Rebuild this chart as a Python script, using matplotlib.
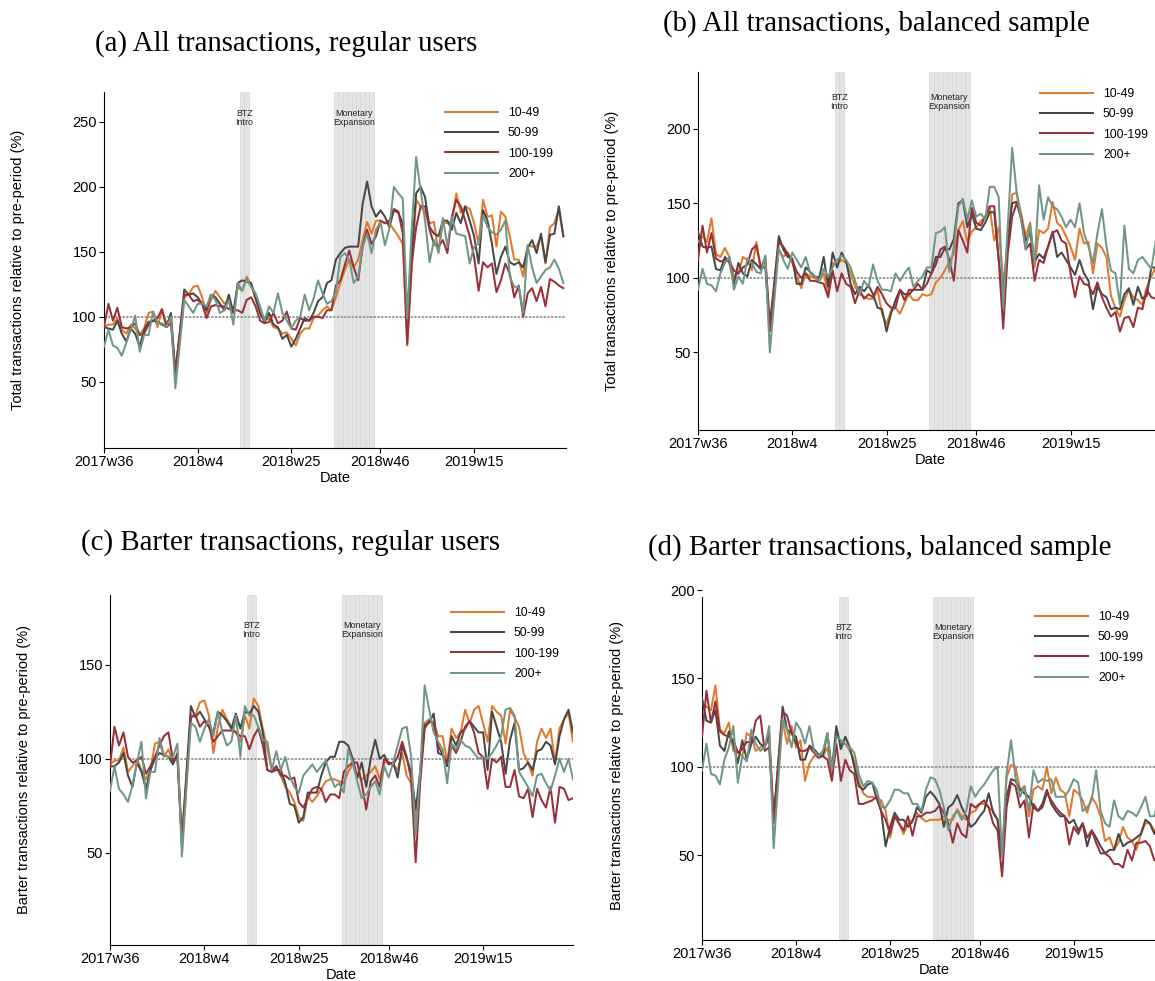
import matplotlib.pyplot as plt
from matplotlib.transforms import blended_transform_factory

plt.rcParams['font.family'] = 'Liberation Sans'

# Weekly index, 0 = 2017w36
weeks = list(range(104))
tick_pos = [0, 21, 42, 62, 83]
tick_lab = ['2017w36', '2018w4', '2018w25', '2018w46', '2019w15']
groups = ['10-49', '50-99', '100-199', '200+']
colors = ['#E3782A', '#474747', '#98303A', '#6F9787']

# Event windows (week index)
btz_weeks = [31, 32]
expansion_weeks = [52, 53, 54, 55, 56, 57, 58, 59, 60]

# (a) All transactions, regular users
a_10_49 = [92, 94, 94, 99, 90, 87, 94, 91, 86, 91,
           103, 104, 92, 105, 95, 99, 59, 87, 115, 117,
           123, 124, 115, 103, 113, 120, 115, 110, 113, 103,
           123, 120, 131, 124, 113, 103, 97, 99, 92, 91,
           87, 88, 83, 78, 87, 91, 91, 99, 101, 105,
           108, 105, 115, 126, 136, 144, 138, 144, 159, 173,
           164, 174, 174, 172, 172, 167, 162, 156, 78, 138,
           190, 185, 180, 172, 173, 149, 173, 172, 173, 195,
           180, 185, 183, 172, 156, 190, 177, 178, 154, 181,
           177, 162, 144, 144, 131, 155, 154, 154, 162, 141,
           169, 172, 183, 162]
a_50_99 = [92, 91, 90, 97, 87, 81, 91, 87, 77, 90,
           96, 97, 96, 94, 92, 103, 56, 88, 121, 117,
           118, 115, 110, 105, 117, 115, 110, 105, 117, 103,
           126, 128, 127, 126, 115, 103, 96, 103, 94, 92,
           83, 86, 77, 83, 91, 99, 97, 103, 112, 115,
           126, 128, 144, 149, 153, 154, 154, 154, 187, 204,
           185, 177, 182, 177, 169, 182, 180, 172, 100, 149,
           195, 200, 192, 169, 164, 162, 174, 174, 167, 180,
           172, 185, 174, 162, 141, 182, 174, 156, 133, 146,
           154, 142, 140, 142, 138, 153, 159, 149, 164, 142,
           163, 164, 185, 162]
a_100_199 = [92, 110, 97, 107, 92, 91, 92, 95, 86, 87,
             94, 97, 99, 106, 92, 95, 56, 86, 117, 117,
             112, 113, 110, 99, 108, 109, 108, 108, 106, 105,
             105, 103, 113, 115, 108, 97, 95, 96, 103, 95,
             97, 104, 91, 90, 99, 97, 97, 100, 100, 99,
             105, 105, 124, 128, 140, 151, 138, 128, 154, 167,
             156, 162, 174, 172, 174, 183, 181, 164, 79, 141,
             169, 185, 185, 167, 156, 154, 159, 149, 177, 190,
             185, 174, 162, 146, 120, 142, 138, 141, 119, 128,
             141, 133, 115, 124, 100, 118, 122, 112, 123, 108,
             129, 127, 124, 122]
a_200 = [77, 90, 78, 76, 70, 80, 90, 101, 73, 86,
         86, 104, 95, 95, 92, 100, 45, 79, 113, 108,
         103, 110, 110, 108, 117, 113, 103, 105, 113, 94,
         126, 120, 129, 123, 118, 108, 97, 108, 103, 118,
         103, 97, 91, 97, 100, 117, 105, 114, 128, 118,
         110, 112, 119, 146, 149, 144, 126, 131, 154, 164,
         149, 167, 173, 155, 168, 200, 195, 191, 99, 167,
         223, 197, 174, 142, 159, 150, 176, 154, 177, 164,
         163, 162, 141, 154, 156, 178, 169, 165, 163, 167,
         174, 131, 123, 123, 103, 155, 138, 126, 131, 136,
         138, 144, 137, 126]

# (b) All transactions, balanced sample
b_10_49 = [124, 128, 124, 140, 116, 114, 120, 114, 101, 103,
           114, 112, 105, 124, 105, 112, 69, 94, 119, 114,
           117, 110, 101, 93, 103, 101, 100, 98, 103, 89,
           110, 109, 112, 110, 103, 94, 89, 87, 86, 86,
           92, 76, 69, 78, 80, 76, 83, 89, 85, 85,
           89, 88, 89, 97, 100, 105, 111, 116, 132, 138,
           124, 131, 134, 138, 141, 147, 125, 134, 96, 121,
           156, 157, 143, 128, 137, 107, 132, 130, 133, 151,
           137, 134, 128, 121, 112, 133, 123, 124, 103, 123,
           120, 114, 88, 80, 74, 85, 92, 87, 85, 82,
           94, 101, 107, 112]
b_50_99 = [131, 121, 120, 121, 106, 105, 114, 110, 96, 110,
           103, 101, 112, 109, 106, 114, 67, 97, 128, 119,
           114, 113, 96, 96, 107, 104, 101, 100, 114, 94,
           117, 107, 117, 111, 96, 89, 94, 91, 95, 89,
           80, 79, 64, 76, 85, 92, 89, 89, 92, 92,
           92, 105, 103, 114, 114, 120, 119, 126, 150, 152,
           134, 143, 133, 132, 137, 144, 144, 112, 87, 125,
           150, 151, 139, 125, 130, 111, 116, 113, 121, 131,
           114, 117, 112, 107, 102, 112, 103, 98, 79, 94,
           89, 87, 79, 80, 79, 89, 93, 82, 94, 86,
           88, 107, 107, 103]
b_100_199 = [112, 135, 117, 130, 113, 111, 112, 111, 105, 103,
             107, 109, 119, 122, 107, 107, 64, 94, 124, 121,
             116, 112, 104, 100, 103, 98, 98, 97, 96, 87,
             105, 91, 103, 96, 94, 83, 92, 86, 89, 87,
             94, 89, 83, 80, 80, 92, 85, 92, 92, 96,
             92, 96, 103, 109, 119, 121, 112, 98, 132, 125,
             117, 147, 137, 135, 141, 148, 148, 112, 66, 116,
             141, 150, 141, 119, 123, 98, 112, 110, 121, 130,
             132, 125, 123, 103, 87, 101, 96, 95, 89, 97,
             87, 80, 74, 77, 64, 73, 74, 67, 80, 79,
             92, 87, 86, 89]
b_200 = [92, 106, 96, 95, 91, 103, 110, 114, 92, 101,
         96, 113, 110, 104, 103, 115, 50, 85, 120, 112,
         106, 117, 112, 107, 114, 103, 101, 98, 106, 101,
         107, 112, 115, 112, 107, 98, 89, 98, 94, 109,
         98, 92, 92, 91, 103, 98, 103, 107, 94, 98,
         101, 107, 107, 130, 131, 134, 104, 121, 148, 153,
         139, 152, 141, 143, 139, 161, 161, 154, 80, 134,
         187, 157, 139, 119, 135, 110, 162, 139, 154, 148,
         146, 141, 134, 139, 134, 150, 130, 121, 110, 130,
         146, 121, 105, 103, 82, 135, 106, 103, 112, 114,
         110, 106, 125, 127]

# (c) Barter transactions, regular users
c_10_49 = [97, 99, 99, 106, 93, 96, 100, 94, 89, 94,
           108, 109, 101, 105, 98, 101, 59, 91, 123, 123,
           130, 131, 123, 103, 117, 126, 121, 117, 114, 109,
           123, 116, 132, 128, 116, 105, 94, 96, 91, 85,
           82, 77, 69, 67, 80, 77, 80, 84, 88, 89,
           89, 88, 87, 93, 97, 91, 89, 91, 93, 96,
           89, 98, 98, 97, 94, 103, 91, 87, 68, 91,
           119, 121, 119, 112, 112, 98, 116, 111, 114, 126,
           119, 126, 128, 119, 109, 128, 125, 123, 108, 126,
           122, 117, 103, 98, 91, 109, 116, 111, 116, 98,
           116, 121, 124, 109]
c_50_99 = [96, 96, 98, 103, 91, 85, 98, 93, 84, 94,
           100, 103, 102, 101, 97, 103, 55, 92, 128, 122,
           125, 121, 117, 114, 125, 123, 120, 116, 124, 116,
           125, 124, 128, 125, 114, 94, 93, 94, 94, 87,
           76, 75, 66, 69, 82, 82, 82, 91, 98, 101,
           101, 109, 109, 107, 100, 90, 98, 85, 100, 110,
           100, 102, 97, 98, 90, 107, 100, 93, 73, 93,
           118, 119, 124, 103, 102, 96, 112, 107, 114, 116,
           120, 117, 114, 114, 94, 125, 117, 109, 92, 110,
           119, 94, 95, 98, 94, 104, 105, 109, 107, 97,
           112, 121, 126, 114]
c_100_199 = [96, 117, 107, 114, 101, 98, 99, 101, 92, 96,
             101, 107, 112, 114, 99, 101, 53, 88, 122, 123,
             117, 120, 117, 109, 112, 115, 115, 115, 114, 112,
             112, 105, 112, 116, 107, 94, 93, 96, 91, 91,
             89, 90, 77, 74, 79, 84, 85, 84, 77, 81,
             81, 79, 93, 96, 98, 98, 87, 73, 88, 91,
             85, 100, 98, 97, 101, 109, 101, 89, 45, 87,
             116, 120, 119, 107, 102, 98, 107, 103, 109, 117,
             120, 114, 103, 101, 84, 100, 98, 101, 85, 85,
             94, 80, 79, 84, 69, 84, 78, 74, 85, 66,
             85, 84, 78, 79]
c_200 = [83, 96, 84, 81, 77, 86, 98, 109, 79, 93,
         93, 111, 102, 101, 101, 108, 48, 84, 119, 117,
         109, 116, 121, 112, 125, 114, 107, 109, 123, 101,
         128, 123, 123, 117, 110, 109, 94, 104, 94, 101,
         91, 85, 82, 91, 94, 97, 93, 96, 99, 91,
         85, 87, 82, 105, 98, 88, 79, 81, 85, 88,
         81, 96, 90, 98, 107, 116, 117, 101, 59, 93,
         139, 126, 114, 109, 105, 87, 108, 105, 110, 107,
         106, 103, 100, 101, 100, 103, 107, 112, 126, 127,
         123, 93, 89, 85, 80, 91, 92, 87, 83, 91,
         100, 93, 100, 89]

# (d) Barter transactions, balanced sample
d_10_49 = [136, 134, 132, 146, 121, 119, 125, 109, 108, 106,
           119, 117, 109, 111, 112, 115, 72, 99, 126, 113,
           123, 111, 115, 92, 102, 106, 106, 106, 111, 95,
           119, 113, 113, 109, 104, 92, 85, 83, 83, 82,
           81, 75, 60, 72, 68, 62, 68, 70, 74, 71,
           69, 70, 70, 70, 72, 70, 70, 76, 72, 70,
           74, 75, 79, 79, 77, 75, 70, 49, 94, 101,
           100, 87, 89, 72, 87, 89, 87, 100, 85, 94,
           87, 85, 72, 87, 85, 81, 74, 83, 79, 72,
           58, 60, 53, 57, 66, 60, 58, 53, 62, 68,
           68, 64, 62, 64]
d_50_99 = [139, 126, 125, 132, 112, 109, 120, 113, 102, 115,
           104, 113, 117, 113, 111, 119, 70, 102, 134, 121,
           119, 117, 104, 104, 112, 110, 107, 106, 119, 98,
           123, 110, 117, 111, 100, 89, 87, 90, 91, 82,
           75, 55, 66, 74, 70, 70, 66, 69, 77, 74,
           83, 86, 83, 79, 66, 77, 79, 84, 77, 72,
           66, 68, 72, 75, 85, 74, 70, 49, 83, 93,
           92, 87, 85, 83, 77, 75, 79, 87, 79, 75,
           72, 72, 68, 70, 64, 68, 55, 64, 60, 55,
           51, 53, 53, 62, 55, 57, 58, 60, 62, 70,
           68, 62, 68, 64]
d_100_199 = [117, 143, 125, 137, 120, 118, 117, 115, 108, 110,
             114, 114, 126, 129, 109, 111, 68, 100, 131, 129,
             119, 113, 109, 109, 111, 108, 105, 106, 104, 92,
             113, 92, 104, 98, 96, 79, 79, 80, 81, 83,
             75, 70, 62, 72, 68, 64, 72, 61, 72, 72,
             74, 74, 75, 78, 74, 68, 57, 68, 62, 60,
             79, 77, 79, 81, 77, 68, 64, 38, 77, 91,
             89, 77, 81, 60, 79, 75, 77, 85, 81, 77,
             74, 72, 56, 66, 62, 68, 60, 64, 57, 51,
             51, 49, 45, 45, 43, 53, 47, 57, 57, 58,
             55, 47, 51, 49]
d_200 = [98, 113, 96, 95, 90, 104, 111, 123, 91, 106,
         103, 121, 113, 109, 111, 123, 54, 91, 127, 121,
         111, 125, 121, 113, 123, 109, 106, 109, 119, 98,
         117, 115, 113, 111, 108, 96, 89, 92, 91, 87,
         77, 77, 81, 87, 87, 85, 85, 79, 79, 75,
         87, 94, 93, 87, 77, 64, 72, 75, 70, 75,
         89, 83, 87, 90, 94, 98, 100, 49, 96, 115,
         94, 83, 89, 75, 98, 91, 93, 92, 93, 83,
         83, 83, 87, 93, 91, 75, 77, 81, 98, 75,
         68, 66, 81, 72, 70, 75, 74, 72, 77, 83,
         72, 72, 83, 79]

W, H = 1155, 981
fig = plt.figure(figsize=(W / 100, H / 100), dpi=100)


def px_axes(left, top, right, bottom):
    return fig.add_axes([left / W, 1 - bottom / H, (right - left) / W, (bottom - top) / H])


panels = [
    dict(title='(a) All transactions, regular users', title_xy=(286, 44),
         box=(104, 92, 566, 448), xmax=103.6, ylim=(-1, 273), ytop=273,
         yticks=[50, 100, 150, 200, 250], ylab_x=18,
         ylabel='Total transactions relative to pre-period (%)',
         legend_xy=(445, 107), note_y=0.927,
         series=[a_10_49, a_50_99, a_100_199, a_200]),
    dict(title='(b) All transactions, balanced sample', title_xy=(876, 24),
         box=(698, 72, 1163, 430), xmax=103.6, ylim=(-2, 238), ytop=238,
         yticks=[50, 100, 150, 200], ylab_x=612,
         ylabel='Total transactions relative to pre-period (%)',
         legend_xy=(1040, 88), note_y=0.916,
         series=[b_10_49, b_50_99, b_100_199, b_200]),
    dict(title='(c) Barter transactions, regular users', title_xy=(291, 543),
         box=(110, 595, 573, 945), xmax=103, ylim=(1, 187), ytop=187,
         yticks=[50, 100, 150], ylab_x=24,
         ylabel='Barter transactions relative to pre-period (%)',
         legend_xy=(451, 607), note_y=0.9,
         series=[c_10_49, c_50_99, c_100_199, c_200]),
    dict(title='(d) Barter transactions, balanced sample', title_xy=(880, 548),
         box=(702, 590, 1166, 940), xmax=103.6, ylim=(2, 200), ytop=196,
         yticks=[50, 100, 150, 200], ylab_x=617,
         ylabel='Barter transactions relative to pre-period (%)',
         legend_xy=(1035, 611), note_y=0.88,
         series=[d_10_49, d_50_99, d_100_199, d_200]),
]

for p in panels:
    ax = px_axes(*p['box'])
    y0, y1 = p['ylim']
    ytop = p['ytop']

    # shaded event windows
    for wk in (btz_weeks, expansion_weeks):
        ax.bar(wk, ytop - y0, bottom=y0, width=1, color='#e4e4e4',
               edgecolor='#d6d6d6', linewidth=0.5, zorder=0)
    tr = blended_transform_factory(ax.transData, ax.transAxes)
    ax.text(sum(btz_weeks) / len(btz_weeks), p['note_y'], 'BTZ\nIntro', transform=tr,
            ha='center', va='center', fontsize=6.4, linespacing=0.95, color='#222222')
    ax.text(sum(expansion_weeks) / len(expansion_weeks), p['note_y'], 'Monetary\nExpansion',
            transform=tr, ha='center', va='center', fontsize=6.4, linespacing=0.95,
            color='#222222')

    ax.axhline(100, color='#999999', lw=1.4, ls=(0, (1.2, 0.7)), zorder=1)

    for vals, g, c in zip(p['series'], groups, colors):
        ax.plot(weeks, vals, color=c, lw=1.45, label=g, zorder=3)

    ax.set_xlim(0, p['xmax'])
    ax.set_ylim(y0, y1)
    ax.set_xticks(tick_pos)
    ax.set_xticklabels(tick_lab)
    ax.set_yticks(p['yticks'])
    ax.tick_params(direction='out', length=3.6, width=0.8, labelsize=10.5, pad=1.5)
    for s in ('top', 'right'):
        ax.spines[s].set_visible(False)
    ax.spines['left'].set_bounds(y0, ytop)
    ax.set_xlabel('Date', fontsize=10.5, labelpad=1.5)

    lx, ly = p['legend_xy']
    ax.legend(loc='upper left', bbox_to_anchor=(lx / W, 1 - ly / H),
              bbox_transform=fig.transFigure, frameon=False, fontsize=8.8,
              handlelength=4.35, handletextpad=0.8, labelspacing=0.68,
              borderpad=0, borderaxespad=0)

    tx, ty = p['title_xy']
    fig.text(tx / W, 1 - ty / H, p['title'], ha='center', va='center',
             fontsize=20.8, family='Liberation Serif')
    bx = p['box']
    fig.text(p['ylab_x'] / W, 1 - (bx[1] + bx[3]) / 2 / H, p['ylabel'], rotation=90,
             ha='center', va='center', fontsize=10.5)

fig.savefig('out.png', dpi=100)
